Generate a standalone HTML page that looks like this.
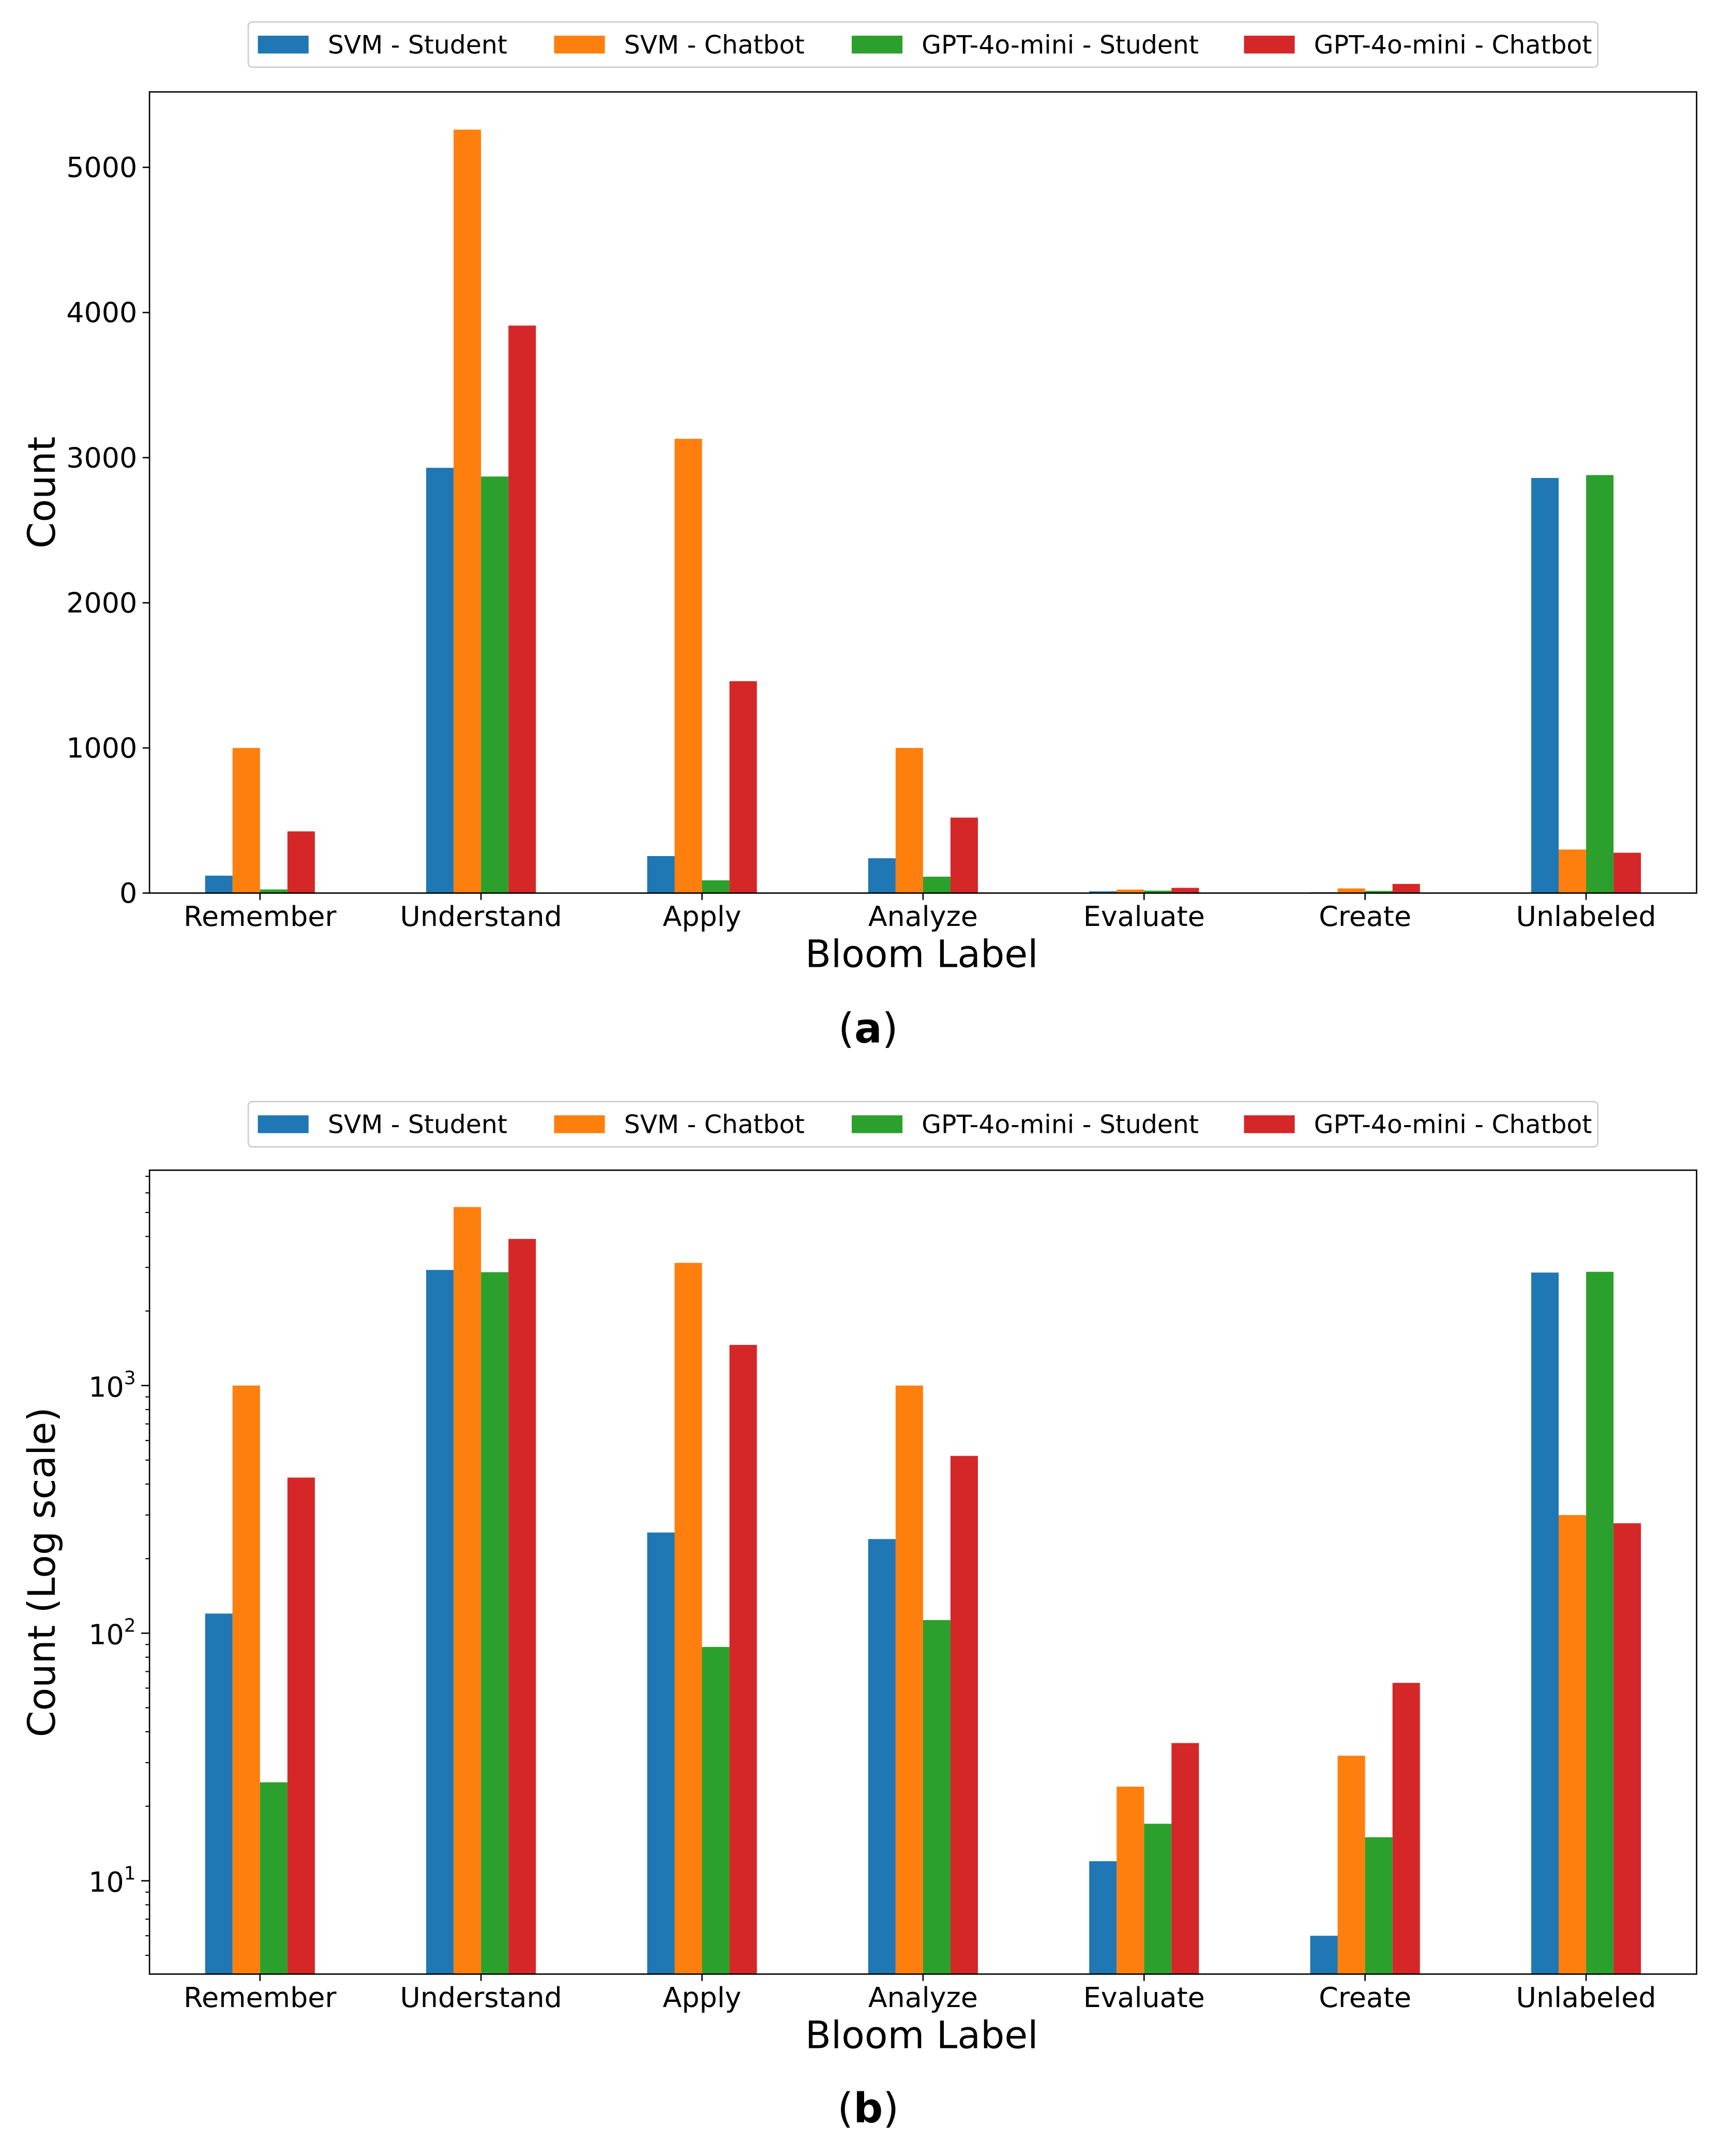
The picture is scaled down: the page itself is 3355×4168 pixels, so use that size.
<!DOCTYPE html>
<html><head><meta charset="utf-8"><style>html,body{margin:0;padding:0;background:#fff}svg{display:block}text{font-family:"DejaVu Sans","Liberation Sans",sans-serif}</style></head>
<body>
<svg id="svg" xmlns="http://www.w3.org/2000/svg" width="3355" height="4168" viewBox="0 0 1265 1571.6" preserveAspectRatio="none"></svg>
<script>
const categories = ["Remember","Understand","Apply","Analyze","Evaluate","Create","Unlabeled"];
const seriesNames = ["SVM - Student","SVM - Chatbot","GPT-4o-mini - Student","GPT-4o-mini - Chatbot"];
const svmStudent = [120, 2930, 255, 240, 12, 6, 2860];
const svmChatbot = [1000, 5260, 3130, 1000, 24, 32, 300];
const gptStudent = [25, 2870, 88, 113, 17, 15, 2880];
const gptChatbot = [425, 3910, 1460, 520, 36, 63, 278];
const linearTicks = [0, 1000, 2000, 3000, 4000, 5000];
const logTicks = [1, 2, 3];
const colors = ["#1f77b4","#ff7f0e","#2ca02c","#d62728"];
const series = [svmStudent, svmChatbot, gptStudent, gptChatbot];
const NS = "http://www.w3.org/2000/svg";
const svg = document.getElementById("svg");
function el(tag, attrs, parent, txt){const e=document.createElementNS(NS,tag);for(const k in attrs)e.setAttribute(k,attrs[k]);if(txt!==undefined)e.textContent=txt;(parent||svg).appendChild(e);return e;}
const X0=109, X1=1237;
const xStep=(X1-X0)/7;
function xc(i){return X0+xStep*(i+0.5);}
function legend(y, g){
  const lg=el("g",{},g);
  
  
  el("rect",{x:181,y:y,width:984,height:33,rx:3,fill:"#fff",stroke:"#ccc","stroke-width":1},lg);
  const px=[188,404,621,907];
  seriesNames.forEach((n,i)=>{
    const e=el("g",{},lg);
    
    
    el("rect",{x:px[i],y:y+10,width:37,height:13,fill:colors[i]},e);
    el("text",{x:px[i]+51,y:y+23,"font-size":18.4,fill:"#000"},e,n);
  });
}
function chart(top,bottom,yfn,tickDraw,ylabel,caption,capY,legY,name){
  const g=el("g",{});
  
  
  legend(legY,g);
  series.forEach((s,si)=>{
    s.forEach((v,i)=>{
      const yv=yfn(v);
      const r=el("rect",{x:xc(i)-40+si*20,y:yv,width:20,height:bottom-yv,fill:colors[si]},g);
      
      
    });
  });
  el("rect",{x:X0,y:top,width:X1-X0,height:bottom-top,fill:"none",stroke:"#000","stroke-width":1},g);
  categories.forEach((c,i)=>{
    el("line",{x1:xc(i),x2:xc(i),y1:bottom,y2:bottom+5,stroke:"#000"},g);
    const t=el("text",{x:xc(i),y:bottom+24,"font-size":20.3,"text-anchor":"middle"},g,c);
    
    
  });
  tickDraw(g);
  const xl=el("text",{x:672,y:bottom+54,"font-size":27.5,"text-anchor":"middle"},g,"Bloom Label");
  
  
  const cy=(top+bottom)/2;
  const yl=el("text",{x:0,y:0,"font-size":27.5,"text-anchor":"middle",transform:`translate(40,${cy}) rotate(-90)`},g,ylabel);
  
  
  const cp=el("text",{x:633,y:capY,"font-size":30,"text-anchor":"middle","font-family":"Liberation Serif, serif"},g);
  
  
  el("tspan",{},cp,"(");
  el("tspan",{"font-weight":"bold"},cp,caption);
  el("tspan",{},cp,")");
}
// chart a
const aBot=651, aPer=(651-122)/5000;
const ya=v=>aBot-v*aPer;
chart(67,aBot,ya,g=>{
  linearTicks.forEach(t=>{
    el("line",{x1:X0-5,x2:X0,y1:ya(t),y2:ya(t),stroke:"#000"},g);
    const tx=el("text",{x:X0-9,y:ya(t)+7,"font-size":20.3,"text-anchor":"end"},g,String(t));
    
    
  });
},"Count","a",760,16,"linear-chart");
// chart b
const bBot=1439, dec=180.5, y1b=1371;
const yb=v=>y1b-(Math.log10(v)-1)*dec;
chart(853,bBot,yb,g=>{
  logTicks.forEach(p=>{
    el("line",{x1:X0-6,x2:X0,y1:yb(Math.pow(10,p)),y2:yb(Math.pow(10,p)),stroke:"#000"},g);
    const tx=el("text",{x:X0-10,y:yb(Math.pow(10,p))+8,"font-size":20.3,"text-anchor":"end"},g);
    
    
    tx.textContent="10";
    el("tspan",{"font-size":13.5,dy:-9},tx,String(p));
  });
  for(let p=0;p<4;p++)for(let m=2;m<10;m++){
    const v=m*Math.pow(10,p); const y=yb(v);
    if(y>853&&y<bBot) el("line",{x1:X0-3,x2:X0,y1:y,y2:y,stroke:"#000","stroke-width":0.8},g);
  }
},"Count (Log scale)","b",1547,803,"log-chart");
</script>
</body></html>
